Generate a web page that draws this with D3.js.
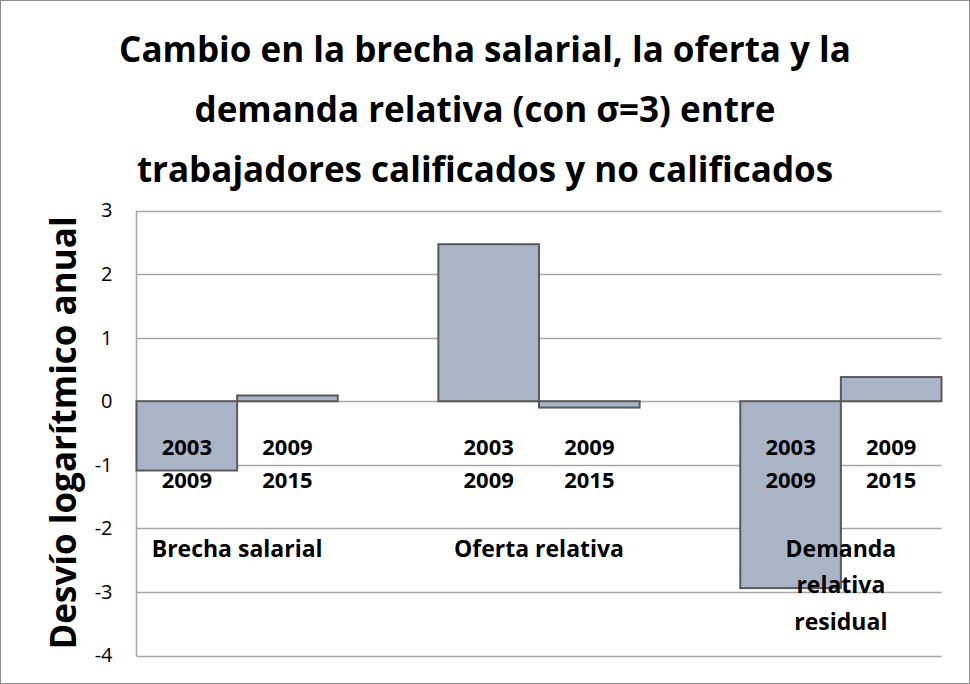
<!DOCTYPE html>
<html>
<head>
<meta charset="utf-8">
<script src="https://cdn.jsdelivr.net/npm/d3@7"></script>
<style>
  html, body { margin: 0; padding: 0; background: #fff; }
  svg { display: block; }
  text { font-family: "Open Sans", Lato, sans-serif; fill: #000; }
</style>
</head>
<body>
<svg id="chart" width="970" height="684"></svg>
<script>
// ---- data ----
const categories = ["Brecha salarial", "Oferta relativa", "Demanda relativa residual"];
const categoryLines = [["Brecha salarial"], ["Oferta relativa"], ["Demanda", "relativa", "residual"]];
const periods = [["2003", "2009"], ["2009", "2015"]];
const period1Values = [-1.09, 2.47, -2.94];   // 2003-2009
const period2Values = [0.09, -0.10, 0.38];    // 2009-2015
const yTicks = [-4, -3, -2, -1, 0, 1, 2, 3];
const titleLines = [
  "Cambio en la brecha salarial, la oferta y la",
  "demanda relativa (con \u03C3=3) entre",
  "trabajadores calificados y no calificados"
];
const yAxisTitle = "Desvío logarítmico anual";

// ---- layout ----
const W = 970, H = 684;
const plot = { left: 136.5, right: 941.5, top: 210.5, bottom: 655.5 };
const svg = d3.select("#chart");

// outer border
svg.append("rect").attr("x", 0.5).attr("y", 0.5).attr("width", W - 1).attr("height", H - 1)
  .attr("fill", "#fff").attr("stroke", "#8c8c8c").attr("stroke-width", 1);

// slots: two bars per category plus an empty gap slot between categories
const slots = [];
categories.forEach((c, i) => {
  slots.push(c + "|0", c + "|1");
  if (i < categories.length - 1) slots.push(c + "|gap");
});
const x = d3.scaleBand().domain(slots).range([plot.left, plot.right]).padding(0);
const y = d3.scaleLinear().domain([d3.min(yTicks), d3.max(yTicks)]).range([plot.bottom, plot.top]);

// gridlines
svg.append("g").selectAll("line").data(yTicks).join("line")
  .attr("x1", plot.left).attr("x2", plot.right)
  .attr("y1", d => Math.round(y(d)) + 0.5).attr("y2", d => Math.round(y(d)) + 0.5)
  .attr("stroke", "#a6a6a6").attr("stroke-width", 1.5);

// y axis line
svg.append("line").attr("x1", plot.left).attr("x2", plot.left)
  .attr("y1", plot.top).attr("y2", plot.bottom + 0.5)
  .attr("stroke", "#a6a6a6").attr("stroke-width", 1.5);

// y tick labels via d3 axis
const yAxis = d3.axisLeft(y).tickValues(yTicks).tickSize(0).tickPadding(24).tickFormat(d3.format("d"));
const ya = svg.append("g").attr("transform", `translate(${plot.left},0)`).call(yAxis);
ya.select(".domain").remove();
ya.selectAll("text").attr("font-family", "'Open Sans', sans-serif").attr("font-size", 20).attr("fill", "#000")
  .text(d => d < 0 ? "-" + Math.abs(d) : d);

// bars
const barData = [];
categories.forEach((c, i) => {
  barData.push({ key: c + "|0", v: period1Values[i], p: 0 });
  barData.push({ key: c + "|1", v: period2Values[i], p: 1 });
});
svg.append("g").selectAll("rect").data(barData).join("rect")
  .attr("x", d => x(d.key))
  .attr("width", x.bandwidth())
  .attr("y", d => y(Math.max(0, d.v)))
  .attr("height", d => Math.abs(y(d.v) - y(0)))
  .attr("fill", "#aab4c7")
  .attr("stroke", "#595959").attr("stroke-width", 2);

// period labels (two lines) centred in each bar slot
const pl = svg.append("g");
barData.forEach(d => {
  const cx = x(d.key) + x.bandwidth() / 2;
  periods[d.p].forEach((t, j) => {
    pl.append("text").attr("x", cx).attr("y", y(-0.84) + j * 33)
      .attr("text-anchor", "middle").attr("font-weight", 700).attr("font-size", 22)
      .text(t);
  });
});

// category labels centred under each pair of bars
const cl = svg.append("g");
categories.forEach((c, i) => {
  const cx = x(c + "|1");
  categoryLines[i].forEach((t, j) => {
    cl.append("text").attr("x", cx).attr("y", y(-2.45) + j * 36.5)
      .attr("text-anchor", "middle").attr("font-weight", 700).attr("font-size", 23)
      .text(t);
  });
});

// title
const tt = svg.append("g");
titleLines.forEach((t, i) => {
  tt.append("text").attr("x", 485).attr("y", 62 + i * 60)
    .attr("text-anchor", "middle").attr("font-weight", 700).attr("font-size", 35)
    .text(t);
});

// y axis title
svg.append("text")
  .attr("transform", `translate(76, ${(plot.top + plot.bottom) / 2}) rotate(-90)`)
  .attr("text-anchor", "middle").attr("font-weight", 700).attr("font-size", 35)
  .text(yAxisTitle);
</script>
</body>
</html>
